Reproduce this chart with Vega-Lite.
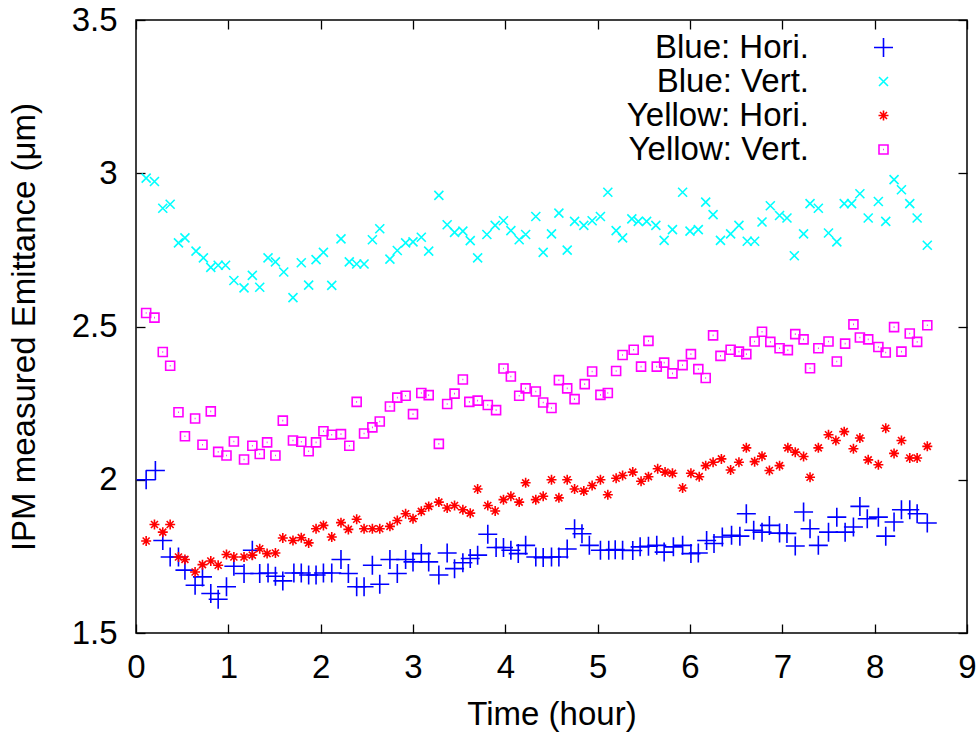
{
  "$schema": "https://vega.github.io/schema/vega-lite/v6.json",
  "width": 831,
  "height": 613,
  "autosize": "none",
  "padding": {"left": 136, "top": 20, "right": 13, "bottom": 100},
  "background": "white",
  "config": {
    "view": {"stroke": "black", "strokeWidth": 1.5},
    "font": "Liberation Sans",
    "axis": {
      "domain": false,
      "grid": false,
      "tickColor": "black",
      "tickWidth": 1.3,
      "tickSize": -9,
      "labelColor": "black",
      "labelFont": "Liberation Sans",
      "labelFontSize": 33,
      "labelFlush": false,
      "labelOverlap": false,
      "titleColor": "black",
      "titleFont": "Liberation Sans",
      "titleFontSize": 33,
      "titleFontWeight": "normal"
    },
    "legend": {
      "labelFont": "Liberation Sans",
      "labelFontSize": 33,
      "labelColor": "black",
      "labelLimit": 400
    }
  },
  "layer": [
    {
      "layer": [
        {
          "data": {"values": [
            {"t":0.11,"e":2.000},{"t":0.21,"e":2.030},{"t":0.29,"e":1.802},{"t":0.37,"e":1.748},{"t":0.46,"e":1.748},{"t":0.53,"e":1.705},{"t":0.64,"e":1.656},{"t":0.72,"e":1.683},{"t":0.81,"e":1.629},{"t":0.89,"e":1.610},
            {"t":0.98,"e":1.651},{"t":1.06,"e":1.718},{"t":1.17,"e":1.694},{"t":1.26,"e":1.770},{"t":1.34,"e":1.694},{"t":1.43,"e":1.696},{"t":1.51,"e":1.685},{"t":1.59,"e":1.670},{"t":1.71,"e":1.696},{"t":1.79,"e":1.696},
            {"t":1.87,"e":1.689},{"t":1.95,"e":1.689},{"t":2.03,"e":1.696},{"t":2.12,"e":1.696},{"t":2.22,"e":1.740},{"t":2.30,"e":1.694},{"t":2.39,"e":1.651},{"t":2.47,"e":1.651},{"t":2.56,"e":1.721},{"t":2.64,"e":1.659},
            {"t":2.75,"e":1.740},{"t":2.83,"e":1.694},{"t":2.92,"e":1.740},{"t":3.00,"e":1.732},{"t":3.09,"e":1.759},{"t":3.17,"e":1.732},{"t":3.28,"e":1.689},{"t":3.37,"e":1.761},{"t":3.45,"e":1.710},{"t":3.54,"e":1.729},
            {"t":3.62,"e":1.743},{"t":3.70,"e":1.754},{"t":3.81,"e":1.822},{"t":3.90,"e":1.779},{"t":3.98,"e":1.779},{"t":4.06,"e":1.770},{"t":4.14,"e":1.759},{"t":4.22,"e":1.786},{"t":4.33,"e":1.748},{"t":4.41,"e":1.746},
            {"t":4.50,"e":1.748},{"t":4.58,"e":1.748},{"t":4.67,"e":1.774},{"t":4.75,"e":1.840},{"t":4.83,"e":1.824},{"t":4.91,"e":1.786},{"t":5.03,"e":1.770},{"t":5.12,"e":1.770},{"t":5.19,"e":1.772},{"t":5.27,"e":1.770},
            {"t":5.38,"e":1.769},{"t":5.46,"e":1.781},{"t":5.55,"e":1.783},{"t":5.64,"e":1.786},{"t":5.72,"e":1.764},{"t":5.82,"e":1.781},{"t":5.92,"e":1.786},{"t":6.01,"e":1.759},{"t":6.09,"e":1.761},{"t":6.18,"e":1.802},
            {"t":6.26,"e":1.792},{"t":6.35,"e":1.813},{"t":6.45,"e":1.819},{"t":6.54,"e":1.816},{"t":6.61,"e":1.889},{"t":6.69,"e":1.835},{"t":6.78,"e":1.829},{"t":6.86,"e":1.851},{"t":6.97,"e":1.826},{"t":7.05,"e":1.825},
            {"t":7.14,"e":1.784},{"t":7.23,"e":1.895},{"t":7.30,"e":1.840},{"t":7.39,"e":1.786},{"t":7.50,"e":1.829},{"t":7.59,"e":1.878},{"t":7.68,"e":1.829},{"t":7.77,"e":1.846},{"t":7.84,"e":1.913},{"t":7.92,"e":1.873},
            {"t":8.04,"e":1.878},{"t":8.12,"e":1.816},{"t":8.21,"e":1.862},{"t":8.29,"e":1.902},{"t":8.38,"e":1.902},{"t":8.46,"e":1.889},{"t":8.57,"e":1.859}
          ]},
          "mark": {"type": "point", "filled": false, "opacity": 1, "size": 100, "strokeWidth": 1.6},
          "encoding": {
            "x": {"field": "t", "type": "quantitative", "scale": {"domain": [0, 9], "nice": false, "zero": false},
                  "axis": {"orient": "bottom", "values": [0,1,2,3,4,5,6,7,8,9], "format": "d", "title": "Time (hour)", "labelPadding": 27, "titlePadding": 14}},
            "y": {"field": "e", "type": "quantitative", "scale": {"domain": [1.5, 3.5], "nice": false, "zero": false},
                  "axis": {"orient": "left", "values": [1.5,2,2.5,3,3.5], "format": "~g", "title": "IPM measured Emittance (μm)", "labelPadding": 28, "titlePadding": 30}},
            "color": {"datum": "Blue: Hori.", "type": "nominal",
                      "scale": {"domain": ["Blue: Hori.","Blue: Vert.","Yellow: Hori.","Yellow: Vert."], "range": ["#0000ff","#00ffff","#ff0000","#ff00ff"]},
                      "legend": {"orient": "none", "legendX": 731, "legendY": 11, "title": null, "labelAlign": "right", "labelOffset": -91, "rowPadding": 0, "padding": 0, "symbolSize": 100, "symbolStrokeWidth": 1.6}},
            "shape": {"datum": "Blue: Hori.", "type": "nominal",
                      "scale": {"domain": ["Blue: Hori.","Blue: Vert.","Yellow: Hori.","Yellow: Vert."],
                                "range": ["M-1.9,0H1.9M0,-1.9V1.9","M-0.9,-0.9L0.9,0.9M0.9,-0.9L-0.9,0.9","M-1,0H1M0,-1V1M-0.7,-0.7L0.7,0.7M0.7,-0.7L-0.7,0.7","M-0.9,-0.9H0.9V0.9H-0.9ZM-0.08,0H0.08"]},
                      "legend": {"orient": "none", "legendX": 731, "legendY": 11, "title": null, "labelAlign": "right", "labelOffset": -91, "rowPadding": 0, "padding": 0, "symbolSize": 100, "symbolStrokeWidth": 1.6}}
          }
        },
        {
          "data": {"values": [
            {"t":0.11,"e":2.984},{"t":0.20,"e":2.973},{"t":0.29,"e":2.886},{"t":0.37,"e":2.899},{"t":0.46,"e":2.773},{"t":0.53,"e":2.789},{"t":0.65,"e":2.746},{"t":0.73,"e":2.724},{"t":0.81,"e":2.693},{"t":0.89,"e":2.700},
            {"t":0.97,"e":2.700},{"t":1.06,"e":2.650},{"t":1.17,"e":2.626},{"t":1.26,"e":2.667},{"t":1.34,"e":2.628},{"t":1.43,"e":2.724},{"t":1.51,"e":2.711},{"t":1.60,"e":2.678},{"t":1.70,"e":2.594},{"t":1.79,"e":2.708},
            {"t":1.87,"e":2.635},{"t":1.95,"e":2.718},{"t":2.03,"e":2.742},{"t":2.12,"e":2.634},{"t":2.22,"e":2.786},{"t":2.31,"e":2.711},{"t":2.39,"e":2.704},{"t":2.47,"e":2.704},{"t":2.56,"e":2.783},{"t":2.64,"e":2.819},
            {"t":2.75,"e":2.720},{"t":2.83,"e":2.748},{"t":2.92,"e":2.773},{"t":3.00,"e":2.776},{"t":3.09,"e":2.791},{"t":3.17,"e":2.746},{"t":3.28,"e":2.928},{"t":3.37,"e":2.832},{"t":3.45,"e":2.807},{"t":3.54,"e":2.811},
            {"t":3.62,"e":2.780},{"t":3.70,"e":2.724},{"t":3.80,"e":2.800},{"t":3.89,"e":2.830},{"t":3.98,"e":2.845},{"t":4.06,"e":2.813},{"t":4.15,"e":2.783},{"t":4.22,"e":2.800},{"t":4.33,"e":2.859},{"t":4.41,"e":2.742},
            {"t":4.50,"e":2.802},{"t":4.58,"e":2.870},{"t":4.67,"e":2.749},{"t":4.75,"e":2.843},{"t":4.85,"e":2.830},{"t":4.94,"e":2.845},{"t":5.03,"e":2.859},{"t":5.11,"e":2.938},{"t":5.20,"e":2.813},{"t":5.27,"e":2.789},
            {"t":5.37,"e":2.851},{"t":5.44,"e":2.843},{"t":5.53,"e":2.843},{"t":5.63,"e":2.830},{"t":5.72,"e":2.781},{"t":5.81,"e":2.816},{"t":5.92,"e":2.938},{"t":6.00,"e":2.811},{"t":6.09,"e":2.816},{"t":6.17,"e":2.906},
            {"t":6.25,"e":2.865},{"t":6.33,"e":2.781},{"t":6.44,"e":2.802},{"t":6.53,"e":2.830},{"t":6.62,"e":2.778},{"t":6.70,"e":2.778},{"t":6.78,"e":2.841},{"t":6.87,"e":2.894},{"t":6.97,"e":2.862},{"t":7.05,"e":2.854},
            {"t":7.13,"e":2.731},{"t":7.23,"e":2.802},{"t":7.30,"e":2.901},{"t":7.39,"e":2.886},{"t":7.50,"e":2.805},{"t":7.59,"e":2.776},{"t":7.67,"e":2.901},{"t":7.75,"e":2.901},{"t":7.84,"e":2.933},{"t":7.93,"e":2.854},
            {"t":8.04,"e":2.908},{"t":8.12,"e":2.843},{"t":8.21,"e":2.979},{"t":8.29,"e":2.946},{"t":8.38,"e":2.901},{"t":8.46,"e":2.854},{"t":8.57,"e":2.765}
          ]},
          "mark": {"type": "point", "filled": false, "opacity": 1, "size": 100, "strokeWidth": 1.6},
          "encoding": {
            "x": {"field": "t", "type": "quantitative"},
            "y": {"field": "e", "type": "quantitative"},
            "color": {"datum": "Blue: Vert.", "type": "nominal"},
            "shape": {"datum": "Blue: Vert.", "type": "nominal"}
          }
        },
        {
          "data": {"values": [
            {"t":0.11,"e":1.800},{"t":0.20,"e":1.854},{"t":0.29,"e":1.829},{"t":0.37,"e":1.854},{"t":0.46,"e":1.748},{"t":0.53,"e":1.740},{"t":0.64,"e":1.699},{"t":0.72,"e":1.723},{"t":0.81,"e":1.735},{"t":0.89,"e":1.721},
            {"t":0.98,"e":1.756},{"t":1.06,"e":1.748},{"t":1.17,"e":1.748},{"t":1.26,"e":1.754},{"t":1.34,"e":1.775},{"t":1.42,"e":1.759},{"t":1.51,"e":1.761},{"t":1.59,"e":1.810},{"t":1.70,"e":1.802},{"t":1.79,"e":1.811},
            {"t":1.87,"e":1.794},{"t":1.95,"e":1.840},{"t":2.03,"e":1.851},{"t":2.12,"e":1.813},{"t":2.22,"e":1.860},{"t":2.30,"e":1.838},{"t":2.39,"e":1.871},{"t":2.47,"e":1.840},{"t":2.56,"e":1.840},{"t":2.64,"e":1.840},
            {"t":2.75,"e":1.848},{"t":2.83,"e":1.867},{"t":2.92,"e":1.889},{"t":3.00,"e":1.873},{"t":3.09,"e":1.897},{"t":3.17,"e":1.913},{"t":3.28,"e":1.927},{"t":3.37,"e":1.908},{"t":3.45,"e":1.916},{"t":3.54,"e":1.902},
            {"t":3.62,"e":1.891},{"t":3.70,"e":1.970},{"t":3.81,"e":1.916},{"t":3.89,"e":1.898},{"t":3.98,"e":1.935},{"t":4.06,"e":1.946},{"t":4.15,"e":1.927},{"t":4.22,"e":1.990},{"t":4.33,"e":1.935},{"t":4.41,"e":1.946},
            {"t":4.50,"e":2.000},{"t":4.58,"e":1.941},{"t":4.67,"e":2.000},{"t":4.75,"e":1.970},{"t":4.85,"e":1.963},{"t":4.94,"e":1.981},{"t":5.03,"e":2.000},{"t":5.11,"e":1.951},{"t":5.20,"e":2.005},{"t":5.27,"e":2.014},
            {"t":5.38,"e":2.025},{"t":5.47,"e":1.995},{"t":5.55,"e":2.010},{"t":5.65,"e":2.036},{"t":5.73,"e":2.025},{"t":5.81,"e":2.021},{"t":5.92,"e":1.973},{"t":6.01,"e":2.021},{"t":6.10,"e":2.010},{"t":6.17,"e":2.046},
            {"t":6.25,"e":2.057},{"t":6.34,"e":2.068},{"t":6.44,"e":2.032},{"t":6.53,"e":2.057},{"t":6.61,"e":2.104},{"t":6.70,"e":2.059},{"t":6.78,"e":2.077},{"t":6.86,"e":2.030},{"t":6.97,"e":2.046},{"t":7.06,"e":2.104},
            {"t":7.14,"e":2.090},{"t":7.23,"e":2.076},{"t":7.30,"e":2.008},{"t":7.39,"e":2.104},{"t":7.50,"e":2.147},{"t":7.58,"e":2.128},{"t":7.67,"e":2.157},{"t":7.77,"e":2.101},{"t":7.84,"e":2.136},{"t":7.93,"e":2.065},
            {"t":8.04,"e":2.049},{"t":8.12,"e":2.168},{"t":8.21,"e":2.086},{"t":8.29,"e":2.128},{"t":8.38,"e":2.071},{"t":8.46,"e":2.071},{"t":8.57,"e":2.109}
          ]},
          "mark": {"type": "point", "filled": false, "opacity": 1, "size": 100, "strokeWidth": 1.6},
          "encoding": {
            "x": {"field": "t", "type": "quantitative"},
            "y": {"field": "e", "type": "quantitative"},
            "color": {"datum": "Yellow: Hori.", "type": "nominal"},
            "shape": {"datum": "Yellow: Hori.", "type": "nominal"}
          }
        },
        {
          "data": {"values": [
            {"t":0.11,"e":2.544},{"t":0.20,"e":2.529},{"t":0.29,"e":2.417},{"t":0.37,"e":2.372},{"t":0.46,"e":2.220},{"t":0.53,"e":2.142},{"t":0.64,"e":2.200},{"t":0.72,"e":2.114},{"t":0.81,"e":2.223},{"t":0.89,"e":2.091},
            {"t":0.98,"e":2.079},{"t":1.06,"e":2.125},{"t":1.17,"e":2.066},{"t":1.26,"e":2.111},{"t":1.34,"e":2.084},{"t":1.42,"e":2.122},{"t":1.51,"e":2.079},{"t":1.59,"e":2.193},{"t":1.70,"e":2.128},{"t":1.79,"e":2.124},
            {"t":1.87,"e":2.093},{"t":1.95,"e":2.122},{"t":2.03,"e":2.158},{"t":2.12,"e":2.147},{"t":2.22,"e":2.149},{"t":2.31,"e":2.111},{"t":2.39,"e":2.254},{"t":2.47,"e":2.151},{"t":2.56,"e":2.171},{"t":2.64,"e":2.190},
            {"t":2.75,"e":2.239},{"t":2.83,"e":2.268},{"t":2.92,"e":2.274},{"t":3.00,"e":2.214},{"t":3.09,"e":2.283},{"t":3.17,"e":2.276},{"t":3.28,"e":2.117},{"t":3.37,"e":2.247},{"t":3.45,"e":2.281},{"t":3.54,"e":2.327},
            {"t":3.61,"e":2.254},{"t":3.70,"e":2.258},{"t":3.81,"e":2.244},{"t":3.90,"e":2.227},{"t":3.98,"e":2.363},{"t":4.06,"e":2.337},{"t":4.15,"e":2.274},{"t":4.22,"e":2.298},{"t":4.33,"e":2.288},{"t":4.41,"e":2.252},
            {"t":4.50,"e":2.234},{"t":4.58,"e":2.325},{"t":4.67,"e":2.298},{"t":4.75,"e":2.263},{"t":4.86,"e":2.312},{"t":4.94,"e":2.353},{"t":5.03,"e":2.277},{"t":5.11,"e":2.283},{"t":5.20,"e":2.355},{"t":5.27,"e":2.407},
            {"t":5.39,"e":2.424},{"t":5.47,"e":2.369},{"t":5.55,"e":2.453},{"t":5.64,"e":2.369},{"t":5.72,"e":2.382},{"t":5.81,"e":2.347},{"t":5.92,"e":2.374},{"t":6.01,"e":2.410},{"t":6.09,"e":2.361},{"t":6.17,"e":2.332},
            {"t":6.25,"e":2.471},{"t":6.33,"e":2.404},{"t":6.44,"e":2.424},{"t":6.53,"e":2.418},{"t":6.61,"e":2.410},{"t":6.70,"e":2.451},{"t":6.78,"e":2.483},{"t":6.87,"e":2.450},{"t":6.97,"e":2.429},{"t":7.06,"e":2.423},
            {"t":7.14,"e":2.475},{"t":7.23,"e":2.458},{"t":7.30,"e":2.364},{"t":7.39,"e":2.429},{"t":7.50,"e":2.451},{"t":7.59,"e":2.386},{"t":7.68,"e":2.444},{"t":7.77,"e":2.507},{"t":7.84,"e":2.464},{"t":7.93,"e":2.458},
            {"t":8.04,"e":2.433},{"t":8.12,"e":2.415},{"t":8.21,"e":2.498},{"t":8.29,"e":2.418},{"t":8.38,"e":2.477},{"t":8.46,"e":2.450},{"t":8.57,"e":2.504}
          ]},
          "mark": {"type": "point", "filled": false, "opacity": 1, "size": 100, "strokeWidth": 1.6},
          "encoding": {
            "x": {"field": "t", "type": "quantitative"},
            "y": {"field": "e", "type": "quantitative"},
            "color": {"datum": "Yellow: Vert.", "type": "nominal"},
            "shape": {"datum": "Yellow: Vert.", "type": "nominal"}
          }
        }
      ]
    },
    {
      "data": {"values": [{"t": 0, "e": 1.5}]},
      "mark": {"type": "point", "opacity": 0},
      "encoding": {
        "x": {"field": "t", "type": "quantitative", "scale": {"domain": [0, 9], "nice": false, "zero": false},
              "axis": {"orient": "top", "values": [0,1,2,3,4,5,6,7,8,9], "labels": false, "title": null}},
        "y": {"field": "e", "type": "quantitative", "scale": {"domain": [1.5, 3.5], "nice": false, "zero": false},
              "axis": {"orient": "right", "values": [1.5,2,2.5,3,3.5], "labels": false, "title": null}}
      }
    }
  ],
  "resolve": {"axis": {"x": "independent", "y": "independent"}}
}
